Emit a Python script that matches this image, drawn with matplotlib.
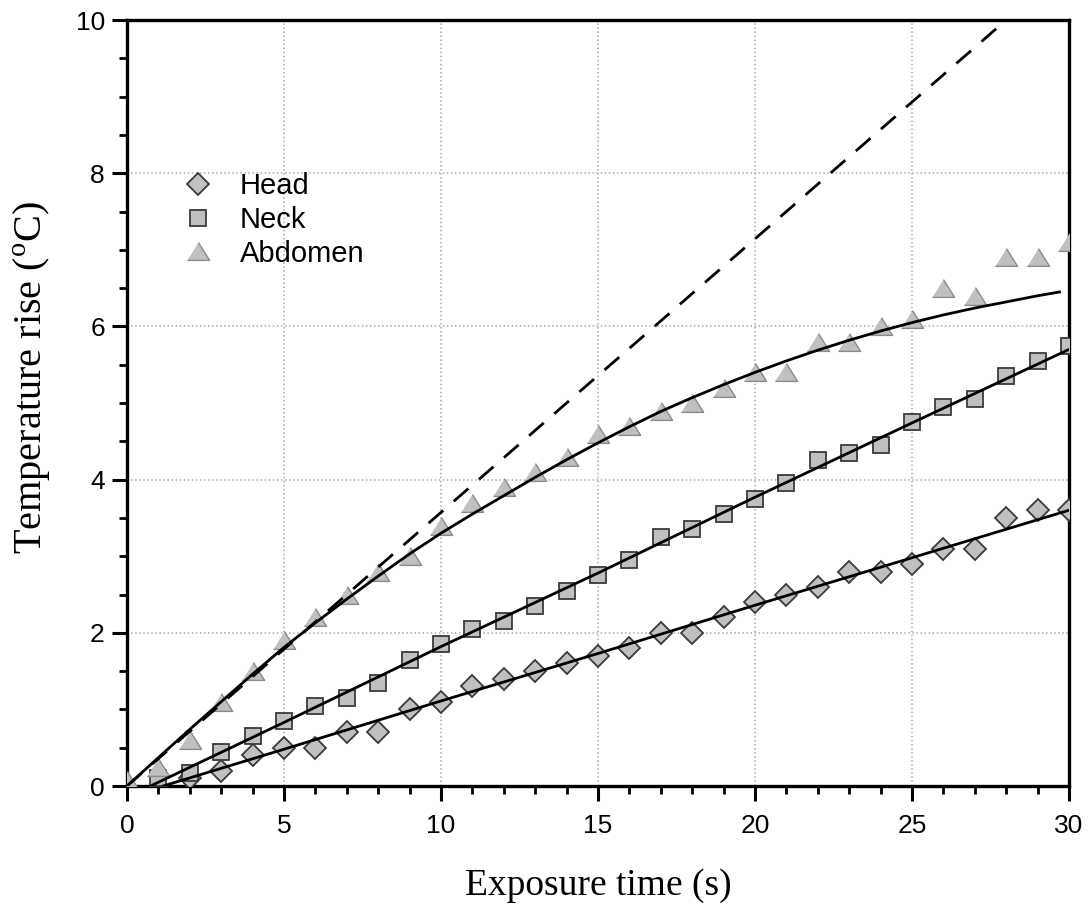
import matplotlib
matplotlib.use("Agg")
import matplotlib.pyplot as plt
from matplotlib.ticker import MultipleLocator

# measured points (exposure time in s, temperature rise in degC)
t_head = [2, 3, 4, 5, 6, 7, 8, 9, 10, 11, 12, 13, 14, 15, 16, 17, 18, 19, 20,
          21, 22, 23, 24, 25, 26, 27, 28, 29, 30]
head = [0.1, 0.2, 0.4, 0.5, 0.5, 0.7, 0.7, 1.0, 1.1, 1.3, 1.4, 1.5, 1.6, 1.7,
        1.8, 2.0, 2.0, 2.2, 2.4, 2.5, 2.6, 2.8, 2.8, 2.9, 3.1, 3.1, 3.5, 3.6, 3.6]

t_neck = [1, 2, 3, 4, 5, 6, 7, 8, 9, 10, 11, 12, 13, 14, 15, 16, 17, 18, 19, 20,
          21, 22, 23, 24, 25, 26, 27, 28, 29, 30]
neck = [0.1, 0.17, 0.45, 0.65, 0.85, 1.05, 1.15, 1.35, 1.65, 1.85, 2.05, 2.15,
        2.35, 2.55, 2.75, 2.95, 3.25, 3.35, 3.55, 3.75, 3.95, 4.25, 4.35, 4.45,
        4.75, 4.95, 5.05, 5.35, 5.55, 5.75]

t_abd = [0, 1, 2, 3, 4, 5, 6, 7, 8, 9, 10, 11, 12, 13, 14, 15, 16, 17, 18, 19,
         20, 21, 22, 23, 24, 25, 26, 27, 28, 29, 30]
abdomen = [0.08, 0.25, 0.6, 1.1, 1.5, 1.9, 2.2, 2.5, 2.8, 3.0, 3.4, 3.7, 3.9,
           4.1, 4.3, 4.6, 4.7, 4.9, 5.0, 5.2, 5.4, 5.4, 5.8, 5.8, 6.0, 6.1,
           6.5, 6.4, 6.9, 6.9, 7.1]

# fitted curves
fit_head_t = [1.15, 5, 10, 15, 20, 25, 30]
fit_head = [0.0, 0.48, 1.11, 1.73, 2.36, 2.98, 3.6]

fit_neck_t = [0.75, 5, 10, 15, 20, 25, 30]
fit_neck = [0.0, 0.83, 1.82, 2.78, 3.77, 4.74, 5.7]

fit_abd_t = [0, 1, 2, 3, 4, 5, 6, 7, 8, 9, 10, 11, 12, 13, 14, 15, 16, 17, 18,
             19, 20, 21, 22, 23, 24, 25, 26, 27, 28, 29, 29.7]
fit_abd = [0.0, 0.37, 0.74, 1.1, 1.46, 1.81, 2.13, 2.44, 2.74, 3.03, 3.30,
           3.55, 3.79, 4.03, 4.26, 4.48, 4.69, 4.89, 5.07, 5.24, 5.40, 5.55,
           5.69, 5.82, 5.94, 6.05, 6.15, 6.24, 6.32, 6.40, 6.45]

# dashed straight line (initial slope)
lin_t = [0, 28]
lin = [0, 10]

face = '#c0c0c0'
tri = [(-1, -0.8), (1, -0.8), (0, 0.8)]

fig = plt.figure(figsize=(10.89, 9.07), dpi=100)
ax = fig.add_axes([0.1166, 0.1334, 0.865, 0.8445])

ax.plot(t_head, head, ls='none', marker='D', ms=11, mfc=face,
        mec='#3a3a3a', mew=1.3, label='Head', zorder=3)
ax.plot(t_neck, neck, ls='none', marker='s', ms=12, mfc=face,
        mec='#3a3a3a', mew=1.3, label='Neck', zorder=3)
ax.plot(t_abd, abdomen, ls='none', marker=tri, ms=16, mfc=face,
        mec='#8a8a8a', mew=1.0, label='Abdomen', zorder=3)

ax.plot(fit_head_t, fit_head, color='black', lw=2.0, zorder=4)
ax.plot(fit_neck_t, fit_neck, color='black', lw=2.0, zorder=4)
ax.plot(fit_abd_t, fit_abd, color='black', lw=2.0, zorder=4)
ax.plot(lin_t, lin, color='black', lw=2.0, ls=(0, (7, 5)), zorder=4)

ax.set_xlim(0, 30)
ax.set_ylim(0, 10)
ax.xaxis.set_major_locator(MultipleLocator(5))
ax.xaxis.set_minor_locator(MultipleLocator(1))
ax.yaxis.set_major_locator(MultipleLocator(2))
ax.yaxis.set_minor_locator(MultipleLocator(0.5))
ax.grid(True, which='major', color='#aaaaaa', ls=':', lw=1.1)

for s in ax.spines.values():
    s.set_linewidth(2.4)
ax.tick_params(which='major', direction='out', length=11, width=2.2,
               labelsize=19)
ax.tick_params(axis='x', which='major', pad=9)
ax.tick_params(axis='y', which='major', pad=5)
ax.tick_params(which='minor', direction='out', length=6, width=2.0)
for lab in ax.get_xticklabels() + ax.get_yticklabels():
    lab.set_family('Liberation Sans')

ax.set_xlabel('Exposure time (s)', family='Liberation Serif', fontsize=27)
ax.set_ylabel(r'Temperature rise ($^\mathregular{o}$C)',
              family='Liberation Serif', fontsize=29)
ax.xaxis.set_label_coords(0.5, -0.108)
ax.yaxis.set_label_coords(-0.079, 0.533)

leg = ax.legend(loc='upper left', bbox_to_anchor=(0.029, 0.836), frameon=False,
                prop={'family': 'Liberation Sans', 'size': 21},
                markerscale=1.0, handlelength=1.2, handletextpad=0.83,
                labelspacing=0.2)

fig.savefig('out.png', dpi=100)
